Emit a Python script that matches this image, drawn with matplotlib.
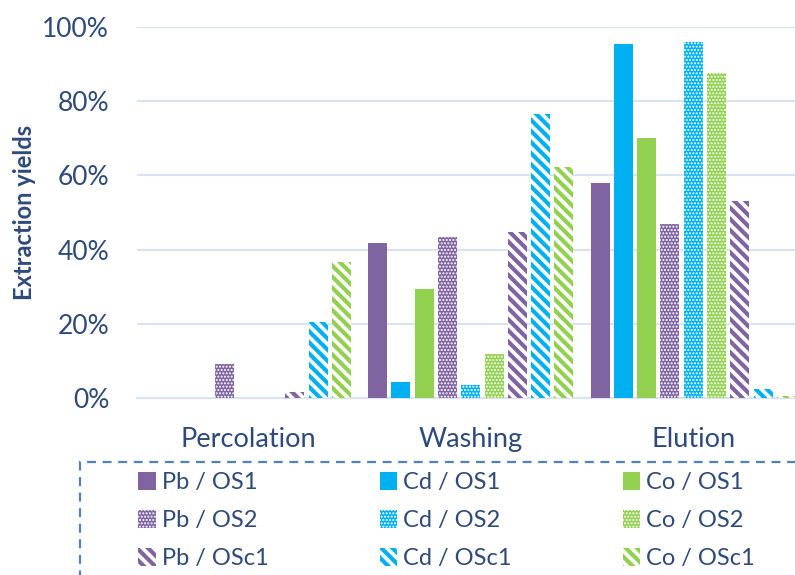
import matplotlib
matplotlib.use("Agg")
import matplotlib.pyplot as plt
from matplotlib.patches import Rectangle
import numpy as np

stages = ["Percolation", "Washing", "Elution"]
series = ["Pb / OS1", "Cd / OS1", "Co / OS1",
          "Pb / OS2", "Cd / OS2", "Co / OS2",
          "Pb / OSc1", "Cd / OSc1", "Co / OSc1"]
# values in % for [Percolation, Washing, Elution]
pb_os1 = [0.0, 41.8, 58.0]
cd_os1 = [0.0, 4.3, 95.3]
co_os1 = [0.0, 29.3, 70.2]
pb_os2 = [9.2, 43.4, 46.8]
cd_os2 = [0.0, 3.5, 96.0]
co_os2 = [0.0, 11.9, 87.7]
pb_osc1 = [1.6, 44.8, 53.2]
cd_osc1 = [20.6, 76.5, 2.4]
co_osc1 = [36.7, 62.2, 0.6]
values = [pb_os1, cd_os1, co_os1, pb_os2, cd_os2, co_os2, pb_osc1, cd_osc1, co_osc1]
yticks = [0, 20, 40, 60, 80, 100]

PURPLE = "#8064A2"
BLUE = "#00B0F0"
GREEN = "#92D050"
colors = [PURPLE, BLUE, GREEN] * 3
TEXT = "#2E4A7A"
GRID = "#D9E3F3"

plt.rcParams['font.family'] = ['Lato', 'DejaVu Sans']

W, H = 795, 575
fig = plt.figure(figsize=(W / 100, H / 100), dpi=100)
ax_left = 137 / W
ax_bottom = (H - 398) / H
ax_top = (H - 27) / H
ax = fig.add_axes([ax_left, ax_bottom, 1 - ax_left, ax_top - ax_bottom])

x = np.arange(len(stages))
pitch = 0.1045
bw = 0.0854
STRIPE_LW = 3.0
DOT_LW = 1.0
for i, (name, vals) in enumerate(zip(series, values)):
    off = (i - 4) * pitch
    pat = i // 3
    c = colors[i]
    if pat == 0:
        ax.bar(x + off, vals, bw, color=c, linewidth=0, label=name, zorder=3)
    elif pat == 1:
        with plt.rc_context({'hatch.linewidth': DOT_LW}):
            ax.bar(x + off, vals, bw, facecolor=c, edgecolor='white',
                   hatch='.....', linewidth=0, label=name, zorder=3)
    else:
        with plt.rc_context({'hatch.linewidth': STRIPE_LW}):
            ax.bar(x + off, vals, bw, facecolor='white', edgecolor=c,
                   hatch='\\\\\\', linewidth=0, label=name, zorder=3)

ax.set_xlim(-0.5, -0.5 + (W - 137) / 222.5)
ax.set_ylim(0, 100)
ax.set_yticks(yticks)
ax.set_yticklabels([f"{v}%" for v in yticks])
ax.set_xticks(x)
ax.set_xticklabels(stages)
ax.tick_params(axis='both', length=0, colors=TEXT)
ax.tick_params(axis='y', pad=20, labelsize=19)
ax.tick_params(axis='x', pad=21, labelsize=19.5)
for lab in ax.get_xticklabels() + ax.get_yticklabels():
    lab.set_color(TEXT)
ax.grid(axis='y', color=GRID, linewidth=1.5, zorder=0)
for s in ['top', 'right', 'left']:
    ax.spines[s].set_visible(False)
ax.spines['bottom'].set_color(GRID)
ax.spines['bottom'].set_linewidth(1.5)
ax.set_ylabel("Extraction yields", fontsize=17, fontweight='bold', color=TEXT)
ax.yaxis.set_label_coords(-(137 - 25) / (W - 137), 0.5)
ax.yaxis.label.set_verticalalignment('center')

handles, labels = ax.get_legend_handles_labels()
order = [0, 3, 6, 1, 4, 7, 2, 5, 8]
leg = fig.legend([handles[k] for k in order], [labels[k] for k in order],
                 ncol=3, loc='upper left', bbox_to_anchor=(117 / W, (H - 451) / H),
                 frameon=False, fontsize=17, handlelength=0.75, handleheight=0.75,
                 handletextpad=0.25, columnspacing=4.7, labelspacing=0.72,
                 labelcolor=TEXT)
for k, h in zip(order, leg.legend_handles):
    pat = k // 3
    if hasattr(h, 'set_hatch_linewidth'):
        if pat == 2:
            h.set_hatch_linewidth(STRIPE_LW)
        elif pat == 1:
            h.set_hatch_linewidth(DOT_LW)

box = Rectangle((80 / W, -0.05), 1.0, (H - 462) / H + 0.05, transform=fig.transFigure,
                fill=False, edgecolor="#4F81BD", linestyle=(0, (4, 3)), linewidth=1.6,
                clip_on=False)
fig.patches.append(box)

fig.savefig("out.png", dpi=100)
